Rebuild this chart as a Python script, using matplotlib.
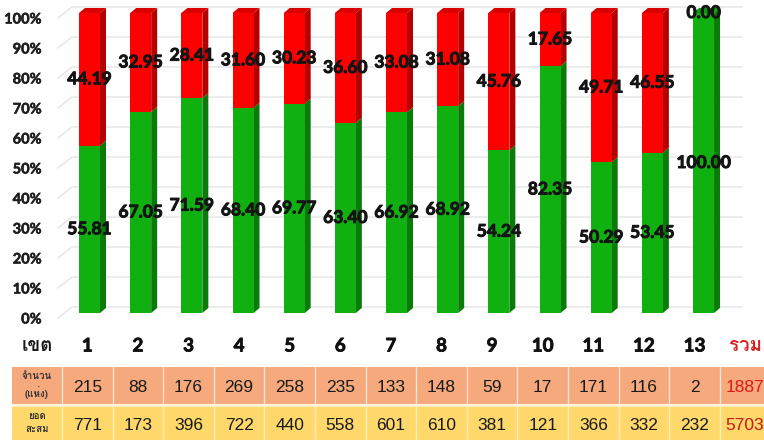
import matplotlib
matplotlib.use('Agg')
import matplotlib.pyplot as plt
from matplotlib import font_manager
from matplotlib.transforms import ScaledTranslation
from matplotlib.patches import Polygon, Rectangle
import matplotlib.patheffects as pe

# ---------------- data ----------------
zones = list(range(1, 14))
green_pct = [55.81, 67.05, 71.59, 68.40, 69.77, 63.40, 66.92, 68.92, 54.24, 82.35, 50.29, 53.45, 100.00]
red_pct = [44.19, 32.95, 28.41, 31.60, 30.23, 36.60, 33.08, 31.08, 45.76, 17.65, 49.71, 46.55, 0.00]
counts = [215, 88, 176, 269, 258, 235, 133, 148, 59, 17, 171, 116, 2]
count_total = 1887
cumulative = [771, 173, 396, 722, 440, 558, 601, 610, 381, 121, 366, 332, 232]
cumulative_total = 5703
y_ticks = list(range(0, 101, 10))
zone_header = "เขต"
total_header = "รวม"
row1_label = "จำนวน\n(แห่ง)"
row2_label = "ยอด\nสะสม"

# ---------------- find a Thai-capable font ----------------
thai_font = None
try:
    from fontTools.ttLib import TTFont
    for f in font_manager.fontManager.ttflist:
        try:
            tt = TTFont(f.fname, fontNumber=0, lazy=True)
            cmap = tt.getBestCmap()
            if cmap and 0x0E40 in cmap and 0x0E02 in cmap and 0x0E27 in cmap:
                thai_font = f.name
                break
        except Exception:
            pass
except Exception:
    pass
thai_family = [thai_font, 'DejaVu Sans'] if thai_font else ['DejaVu Sans']

W_PX, H_PX = 764, 440
fig = plt.figure(figsize=(W_PX / 100, H_PX / 100), dpi=100)
fig.patch.set_facecolor('white')

thick = [pe.withStroke(linewidth=0.7, foreground='#141414')]

# ---------------- chart axes ----------------
c1_px = 89.5          # pixel of bar 1 centre
step_px = 51.17       # pixels per bar
y0_px, ypp = 313, 3.0 # pixel of 0 %, pixels per percent
ax_left_px = 50

def px2x(px):
    return 1 + (px - c1_px) / step_px

ax = fig.add_axes([ax_left_px / W_PX, (H_PX - y0_px) / H_PX,
                   (W_PX - ax_left_px) / W_PX, 100 * ypp / H_PX])
ax.set_xlim(px2x(ax_left_px), px2x(W_PX))
ax.set_ylim(0, 100)
for s in ax.spines.values():
    s.set_visible(False)
ax.set_xticks([])
ax.set_yticks(y_ticks)
ax.set_yticklabels([f"{v}%" for v in y_ticks], fontfamily='Lato', fontweight='bold',
                   fontsize=10.5, color='#1E1E1E')
ax.tick_params(axis='y', length=0, pad=6)
off = ScaledTranslation(0, -0.05, fig.dpi_scale_trans)
for lab in ax.get_yticklabels():
    lab.set_transform(lab.get_transform() + off)
    lab.set_path_effects([pe.withStroke(linewidth=0.4, foreground='#1E1E1E')])

# gridlines (3D wall style)
for v in y_ticks:
    ax.plot([px2x(58), px2x(72), px2x(742)], [v - 1.67, v + 2.0, v + 2.0],
            color='#E4E4E4', lw=1, zorder=0, clip_on=False)

W = 21 / step_px
DX = 6 / step_px
DY = 5 / ypp
G_FRONT, G_SIDE, G_TOP = '#10B010', '#0A7A0A', '#0C9A0C'
R_FRONT, R_SIDE, R_TOP = '#FF0000', '#B30000', '#D80000'

ax.bar(zones, green_pct, width=W, color=G_FRONT, zorder=3, clip_on=False)
ax.bar(zones, red_pct, width=W, bottom=green_pct, color=R_FRONT, zorder=3, clip_on=False)
for x, g, r in zip(zones, green_pct, red_pct):
    xr = x + W / 2
    xl = x - W / 2
    ax.add_patch(Polygon([(xr, 0), (xr + DX, DY), (xr + DX, g + DY), (xr, g)],
                         closed=True, color=G_SIDE, zorder=2, clip_on=False, lw=0))
    top = g + r
    if r > 0:
        ax.add_patch(Polygon([(xr, g), (xr + DX, g + DY), (xr + DX, top + DY), (xr, top)],
                             closed=True, color=R_SIDE, zorder=2, clip_on=False, lw=0))
    cap = R_TOP if r > 0 else G_TOP
    ax.add_patch(Polygon([(xl, top), (xr, top), (xr + DX, top + DY), (xl + DX, top + DY)],
                         closed=True, color=cap, zorder=2, clip_on=False, lw=0))
    ax.text(x, g / 2, f"{g:.2f}", ha='center', va='center', fontfamily='Lato',
            fontweight='bold', fontsize=12.5, color='#141414', zorder=5, path_effects=thick)
    ax.text(x, g + r / 2, f"{r:.2f}", ha='center', va='center', fontfamily='Lato',
            fontweight='bold', fontsize=12.5, color='#141414', zorder=5, path_effects=thick)

# ---------------- table axes (pixel coordinates) ----------------
tx = fig.add_axes([0, 0, 1, 1], zorder=-1)
tx.set_xlim(0, W_PX)
tx.set_ylim(H_PX, 0)
tx.axis('off')

col0_l, col0_r = 12, 62
colw = 50.6
salmon, yellow = '#F5A97C', '#FED86A'
r1_top, r1_bot = 367, 404
r2_top, r2_bot = 405.5, 445

def col_center(i):
    return col0_r + colw * (i + 0.5)

# row backgrounds
tx.add_patch(Rectangle((col0_l, r1_top), W_PX + 20 - col0_l, r1_bot - r1_top,
                       color=salmon, lw=0))
tx.add_patch(Rectangle((col0_l, r2_top), W_PX + 20 - col0_l, r2_bot - r2_top,
                       color=yellow, lw=0))
# column separators
n_cols = len(zones) + 1
for i in range(n_cols + 1):
    xs = col0_r + colw * i
    tx.plot([xs, xs], [r1_top, r1_bot], color='white', lw=1, alpha=0.7)
    tx.plot([xs, xs], [r2_top, r2_bot], color='#FFF2C0', lw=1, alpha=0.9)
tx.plot([col0_l, W_PX], [(r1_bot + r2_top) / 2] * 2, color='#FFF3DA', lw=1.8)

# header row
hy = 346
tx.text(37, hy, zone_header, ha='center', va='center', family=thai_family,
        fontsize=13.5, fontweight='bold', color='#1A1A1A')
for i, z in enumerate(zones):
    tx.text(col_center(i), hy, str(z), ha='center', va='center', fontfamily='Lato',
            fontweight='bold', fontsize=13.5, color='#111111',
            path_effects=[pe.withStroke(linewidth=0.6, foreground='#111111')])
tx.text(col_center(len(zones)), hy, total_header, ha='center', va='center',
        family=thai_family, fontsize=13.5, fontweight='bold', color='#D42222')

# row labels
tx.text(37, (r1_top + r1_bot) / 2, row1_label, ha='center', va='center',
        family=thai_family, fontsize=7, fontweight='bold', color='#333333', linespacing=1.5)
tx.text(37, (r2_top + 440) / 2, row2_label, ha='center', va='center',
        family=thai_family, fontsize=7, fontweight='bold', color='#333333', linespacing=1.5)

# values
for i, (c, cu) in enumerate(zip(counts, cumulative)):
    tx.text(col_center(i), 387, str(c), ha='center', va='center',
            fontfamily='Liberation Sans', fontsize=12.5, color='#1A1A1A')
    tx.text(col_center(i), 425, str(cu), ha='center', va='center',
            fontfamily='Liberation Sans', fontsize=12.5, color='#1A1A1A')
tx.text(col_center(len(zones)), 387, str(count_total), ha='center', va='center',
        fontfamily='Liberation Sans', fontsize=12.5, color='#E01818')
tx.text(col_center(len(zones)), 425, str(cumulative_total), ha='center', va='center',
        fontfamily='Liberation Sans', fontsize=12.5, color='#C81818')

fig.savefig('out.png', dpi=100)
